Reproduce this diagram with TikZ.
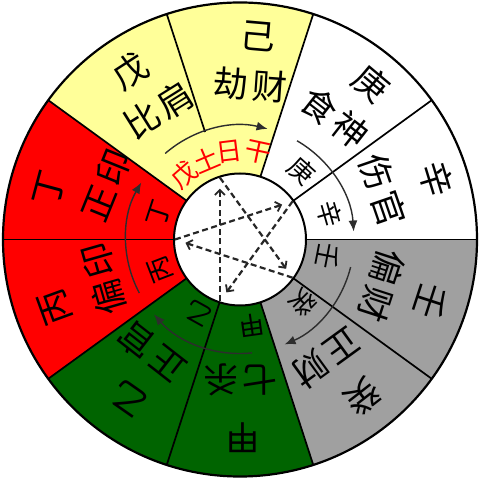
\documentclass[tikz,border=0pt]{standalone}
\usepackage{fontspec}
\newfontfamily\cjk{Noto Sans CJK SC}
\usetikzlibrary{arrows.meta}
\definecolor{cyellow}{RGB}{255,255,153}
\definecolor{cred}{RGB}{255,0,0}
\definecolor{cgreen}{RGB}{0,100,0}
\definecolor{cgray}{RGB}{160,160,160}
\definecolor{carc}{RGB}{45,45,45}
\begin{document}
\begin{tikzpicture}[x=1pt,y=1pt,
  big/.style={font=\cjk\fontsize{35}{35}\selectfont, inner sep=0pt},
  small/.style={font=\cjk\fontsize{26}{26}\selectfont, inner sep=0pt},
  ring/.style={draw=carc, line width=1.4pt, -{Latex[length=11pt,width=9pt]}},
  chord/.style={draw=black!85, line width=2.2pt, dash pattern=on 6pt off 3.5pt,
    -{Straight Barb[length=5pt,width=10pt,line width=1.8pt]}, shorten >=11pt},
  sep/.style={line width=1.7pt}]
\useasboundingbox (-240,-238.5) rectangle (239,239.5);
% sectors
\fill[cyellow] (0,0) -- (72:237) arc[start angle=72,end angle=144,radius=237] -- cycle;
\fill[white] (0,0) -- (0:237) arc[start angle=0,end angle=72,radius=237] -- cycle;
\fill[cgray] (0,0) -- (-72:237) arc[start angle=-72,end angle=0,radius=237] -- cycle;
\fill[cgreen] (0,0) -- (-144:237) arc[start angle=-144,end angle=-72,radius=237] -- cycle;
\fill[cred] (0,0) -- (144:237) arc[start angle=144,end angle=216,radius=237] -- cycle;
% separators
\foreach \a in {0,36,72,144,216,252,288,324}
  \draw[sep] (\a:66) -- (\a:237);
\draw[line width=1pt] (180:66) -- (180:237);
\draw[sep] (108:113) -- (108:237);
\draw[line width=2.2pt] (0,0) circle (237);
\filldraw[fill=white, line width=2pt] (0,0) circle (66);
% ring arrows
\coordinate (ay) at (131:114);
\coordinate (aw) at (60:114);
\coordinate (ag) at (-14:114);
\coordinate (agr) at (-84:114);
\coordinate (ar) at (-152:114);
\draw[ring] (ay) arc[start angle=131,end angle=76,radius=114];
\draw[ring] (aw) arc[start angle=60,end angle=4,radius=114];
\draw[ring] (ag) arc[start angle=-14,end angle=-67,radius=114];
\draw[ring] (agr) arc[start angle=-84,end angle=-139,radius=114];
\draw[ring] (ar) arc[start angle=-152,end angle=-210,radius=114];
% pentagram
\coordinate (v1) at (108:65);
\coordinate (v2) at (36:65);
\coordinate (v3) at (-36:65);
\coordinate (v4) at (-108:65);
\coordinate (v5) at (180:65);
\draw[chord] (v4) -- (v1);
\draw[chord] (v1) -- (v3);
\draw[chord] (v2) -- (v4);
\draw[chord] (v5) -- (v2);
\draw[chord] (v3) -- (v5);
% outer stems
\node[big, rotate=33] (o1) at (123:201) {戊};
\node[big, rotate=-5] (o2) at (85:204) {己};
\node[big, rotate=-40] (o3) at (50:204) {庚};
\node[big, rotate=-73] (o4) at (17:205) {辛};
\node[big, rotate=-108] (o5) at (-18:201) {壬};
\node[big, rotate=-142] (o6) at (-52:200) {癸};
\node[big, rotate=180] (o7) at (-89:198) {甲};
\node[big, rotate=145] (o8) at (-125:194) {乙};
\node[big, rotate=110] (o9) at (200:197) {丙};
\node[big, rotate=75] (o10) at (165:197) {丁};
% middle names
\node[big, rotate=32] (m1) at (122:153) {比\hspace{4pt}肩};
\node[big, rotate=-4] (m2) at (86:155) {劫\hspace{4pt}财};
\node[big, rotate=-38] (m3) at (52:155) {食\hspace{4pt}神};
\node[big, rotate=-71] (m4) at (19:151) {伤\hspace{4pt}官};
\node[big, rotate=-108] (m5) at (-18:149) {偏\hspace{4pt}财};
\node[big, rotate=-144] (m6) at (-54:147) {正\hspace{4pt}财};
\node[big, rotate=180] (m7) at (-90:140) {七\hspace{4pt}杀};
\node[big, rotate=142] (m8) at (-128:143) {正\hspace{4pt}官};
\node[big, rotate=106] (m9) at (196:142) {偏\hspace{4pt}印};
\node[big, rotate=68] (m10) at (158:144) {正\hspace{4pt}印};
% inner small
\node[small, text=cred, rotate=41] (r1) at (131:86) {戊};
\node[small, text=cred, rotate=23] (r2) at (113:87) {土};
\node[small, text=cred, rotate=7] (r3) at (97:88) {日};
\node[small, text=cred, rotate=-12] (r4) at (78:89) {干};
\node[small, rotate=-42] (i1) at (48:92) {庚};
\node[small, rotate=-74] (i2) at (16:93) {辛};
\node[small, rotate=-101] (i3) at (-11:90) {壬};
\node[small, rotate=-135] (i4) at (-45:89) {癸};
\node[small, rotate=-172] (i5) at (-82:87) {甲};
\node[small, rotate=151] (i6) at (-119:85) {乙};
\node[small, rotate=111] (i7) at (201:85) {丙};
\node[small, rotate=72] (i8) at (162:85) {丁};
\end{tikzpicture}
\end{document}
